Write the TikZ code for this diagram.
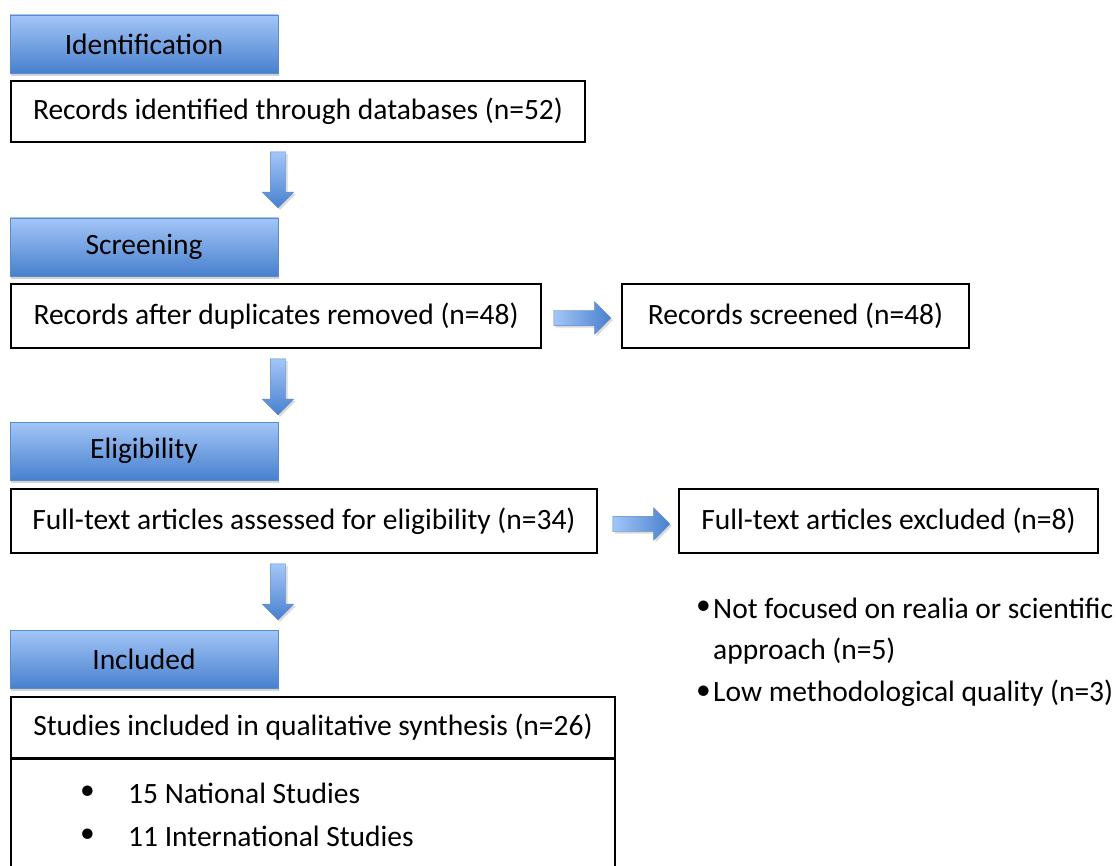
\documentclass[tikz,border=0pt]{standalone}
\usepackage{fontspec}
\setmainfont{Carlito}
\usetikzlibrary{shapes.arrows,shadows}
\definecolor{hdtop}{RGB}{163,198,247}
\definecolor{hdbot}{RGB}{72,128,206}
\definecolor{hdline}{RGB}{90,138,200}

\begin{document}
\begin{tikzpicture}[x=1pt,y=-1pt]
\tikzset{
  header/.style={rectangle,draw=hdline,top color=hdtop,bottom color=hdbot,minimum width=268pt,minimum height=58pt,drop shadow={opacity=0.35,shadow xshift=1pt,shadow yshift=-3pt},font=\fontsize{29.5}{35}\selectfont},
  recbox/.style={rectangle,draw=black,line width=1.3pt,minimum height=64pt,inner sep=0pt,font=\fontsize{29.5}{35}\selectfont},
  downarr/.style={single arrow,shape border rotate=270,inner sep=7.5pt,minimum height=56pt,minimum width=31pt,single arrow head extend=8pt,draw=hdline,top color=hdtop,bottom color=hdbot,drop shadow={opacity=0.3,shadow xshift=2pt,shadow yshift=-2pt}},
  rightarr/.style={single arrow,inner sep=7.5pt,minimum height=57pt,minimum width=32pt,single arrow head extend=8.5pt,draw=hdline,left color=hdtop,right color=hdbot,drop shadow={opacity=0.3,shadow xshift=2pt,shadow yshift=-2pt}},
  txt/.style={anchor=west,inner sep=0pt,font=\fontsize{29.5}{35}\selectfont}
}
\useasboundingbox (0,0) rectangle (1116,866);
\clip (0,0) rectangle (1116,866);

% identification
\node[header] (hd1) at (144,44) {Identification};
\node[recbox,minimum width=574pt,minimum height=61pt] (rec1) at (298,111.5) {Records identified through databases (n=52)};
\node[downarr] (a1) at (278,176) {};

% screening
\node[header] (hd2) at (144,247) {Screening};
\node[recbox,minimum width=530pt] (rec2) at (276,316) {Records after duplicates removed (n=48)};
\node[rightarr] (a2) at (578.5,318) {};
\node[recbox,minimum width=347pt] (rec3) at (795.5,316) {Records screened (n=48)};
\node[downarr] (a3) at (278,383) {};

% eligibility
\node[header] (hd3) at (144,451) {Eligibility};
\node[recbox,minimum width=586pt] (rec4) at (304,521) {Full-text articles assessed for eligibility (n=34)};
\node[rightarr] (a4) at (637.5,524) {};
\node[recbox,minimum width=419pt] (rec5) at (888.5,521) {Full-text articles excluded (n=8)};
\node[downarr] (a5) at (278,588) {};

\node[txt] (b1) at (696,608) {\textbullet};
\node[txt] (ex1) at (713,608) {Not focused on realia or scientific};
\node[txt] (ex2) at (713,651) {approach (n=5)};
\node[txt] (b2) at (696,693) {\textbullet};
\node[txt] (ex3) at (713,693) {Low methodological quality (n=3)};

% included
\node[header] (hd4) at (144,659) {Included};
\node[recbox,minimum width=604pt,minimum height=61pt] (rec6) at (313,727.5) {Studies included in qualitative synthesis (n=26)};
\node[recbox,minimum width=604pt,minimum height=140pt,anchor=north] (rec7) at (rec6.south) {};
\node[txt] (st1) at (80,793) {\textbullet};
\node[txt] (st2) at (128,793) {15 National Studies};
\node[txt] (st3) at (80,836) {\textbullet};
\node[txt] (st4) at (128,836) {11 International Studies};
\end{tikzpicture}
\end{document}
